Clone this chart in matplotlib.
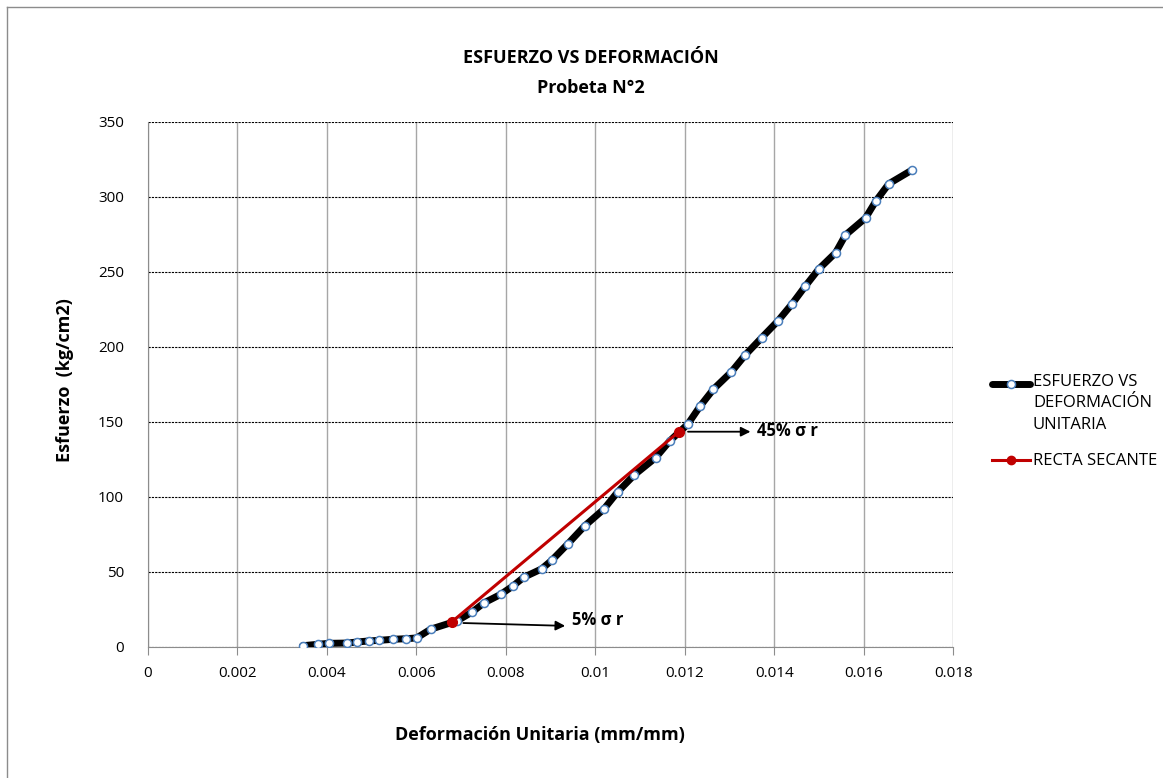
import matplotlib.pyplot as plt
from matplotlib.lines import Line2D

plt.rcParams['font.family'] = ['Open Sans', 'DejaVu Sans']

# ensayo de compresion, probeta 2
deformacion = [0.00346, 0.00381, 0.00405, 0.00445, 0.00468, 0.00494, 0.00517, 0.00548,
               0.00578, 0.00601, 0.00632, 0.00692, 0.00725, 0.00751, 0.00789, 0.00816,
               0.00840, 0.00880, 0.00903, 0.00939, 0.00976, 0.01019, 0.01050, 0.01087,
               0.01135, 0.01167, 0.01207, 0.01234, 0.01264, 0.01304, 0.01335, 0.01372,
               0.01408, 0.01440, 0.01469, 0.01499, 0.01537, 0.01559, 0.01604, 0.01627,
               0.01656, 0.01708]
esfuerzo = [0.5, 1.5, 2.1, 2.3, 3.0, 3.7, 4.1, 4.8, 5.2, 5.7, 11.5, 17.2, 23.0, 29.0,
            34.8, 40.3, 46.1, 51.7, 57.5, 68.5, 80.3, 91.5, 103.0, 114.3, 125.9, 137.2,
            148.3, 160.1, 171.5, 183.0, 194.3, 205.9, 217.0, 228.5, 240.1, 251.5, 262.5,
            274.3, 285.7, 297.0, 308.5, 317.7]

# recta secante entre 5% y 45% del esfuerzo de rotura
secante_x = [0.00679, 0.01187]
secante_y = [16.3, 143.2]

W, H = 1163, 778
fig = plt.figure(figsize=(W / 100, H / 100), dpi=100)
ax = fig.add_axes([147.7 / W, 1 - 646.5 / H, (953.3 - 147.7) / W, (646.5 - 121.5) / H])

ax.plot(deformacion, esfuerzo, color='black', lw=5, solid_joinstyle='round',
        solid_capstyle='round', marker='o', ms=5.8, mfc='white', mec='#4a7ebb',
        mew=1.1, zorder=3)
ax.plot(secante_x, secante_y, color='#c00000', lw=2.2, marker='o', ms=7,
        mfc='#c00000', mec='#c00000', zorder=4)

ax.set_xlim(0, 0.018)
ax.set_ylim(0, 350)
ax.set_xticks([i * 0.002 for i in range(10)])
ax.set_xticklabels(['0', '0.002', '0.004', '0.006', '0.008', '0.01', '0.012', '0.014',
                    '0.016', '0.018'])
ax.set_yticks(range(0, 351, 50))

ax.xaxis.grid(True, color='#a6a6a6', lw=1.0)
ax.yaxis.grid(True, color='black', lw=0.8, linestyle=(0, (2, 1)))
ax.set_axisbelow(True)
for s in ['top', 'right']:
    ax.spines[s].set_visible(False)
for s in ['left', 'bottom']:
    ax.spines[s].set_color('#8c8c8c')
ax.tick_params(axis='x', length=6, color='#8c8c8c', pad=8, labelsize=11)
ax.tick_params(axis='y', length=0, pad=17, labelsize=11)

# flechas 5% y 45%
ax.annotate('', xy=(0.00939, 13.7), xytext=(0.00699, 15.7),
            arrowprops=dict(arrowstyle='-|>', color='black', lw=1.3, mutation_scale=14))
ax.text(0.00948, 17.5, '5% σ r', fontsize=12, fontweight='bold', va='center')
ax.annotate('', xy=(0.01353, 143.2), xytext=(0.01201, 143.2),
            arrowprops=dict(arrowstyle='-|>', color='black', lw=1.3, mutation_scale=14))
ax.text(0.01362, 143.5, '45% σ r', fontsize=12, fontweight='bold', va='center')

# titulos
fig.text(591 / W, 1 - 58 / H, 'ESFUERZO VS DEFORMACIÓN', ha='center', va='center',
         fontsize=13, fontweight='bold')
fig.text(591 / W, 1 - 88 / H, 'Probeta N°2', ha='center', va='center',
         fontsize=13, fontweight='bold')
fig.text(540 / W, 1 - 735 / H, 'Deformación Unitaria (mm/mm)', ha='center', va='center',
         fontsize=13, fontweight='bold')
fig.text(65 / W, 1 - 380 / H, 'Esfuerzo  (kg/cm2)', ha='center', va='center',
         rotation=90, fontsize=13, fontweight='bold')

# leyenda
fig.add_artist(Line2D([992 / W, 1030 / W], [1 - 384 / H] * 2, transform=fig.transFigure,
                      color='black', lw=5, solid_capstyle='round'))
fig.add_artist(Line2D([1011 / W], [1 - 384 / H], transform=fig.transFigure, marker='o',
                      ms=5.8, mfc='white', mec='#4a7ebb', mew=1.1))
fig.text(1033 / W, 1 - 374 / H, 'ESFUERZO VS\nDEFORMACIÓN\nUNITARIA', ha='left', va='top',
         fontsize=12, linespacing=1.45)
fig.add_artist(Line2D([992 / W, 1030 / W], [1 - 460 / H] * 2, transform=fig.transFigure,
                      color='#c00000', lw=2.2))
fig.add_artist(Line2D([1011 / W], [1 - 460 / H], transform=fig.transFigure, marker='o',
                      ms=6, color='#c00000'))
fig.text(1033 / W, 1 - 461 / H, 'RECTA SECANTE', ha='left', va='center', fontsize=12)

# borde del area del grafico
fig.add_artist(Line2D([7 / W, 7 / W], [0, 1 - 7 / H], transform=fig.transFigure,
                      color='#8c8c8c', lw=1))
fig.add_artist(Line2D([7 / W, 1], [1 - 7 / H, 1 - 7 / H], transform=fig.transFigure,
                      color='#8c8c8c', lw=1))

fig.savefig('out.png', dpi=100)
